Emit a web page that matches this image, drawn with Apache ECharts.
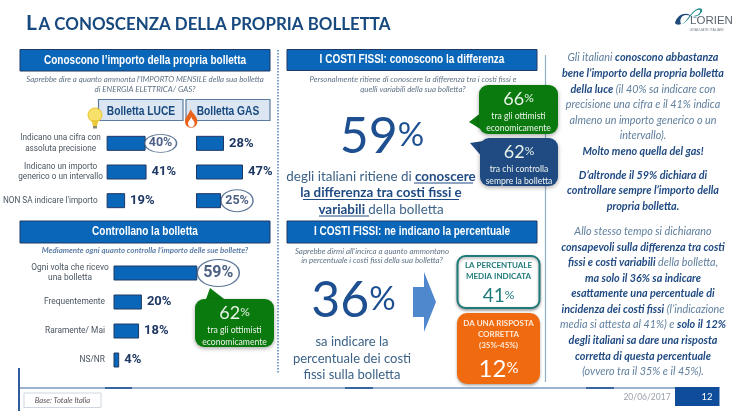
<!DOCTYPE html>
<html><head><meta charset="utf-8">
<style>html,body{margin:0;padding:0;background:#fff}#c{width:740px;height:416px}</style>
<script src="https://cdn.jsdelivr.net/npm/echarts@6/dist/echarts.min.js"></script>
</head><body><div id="c"></div>
<script>
const importoCats = ["Indicano una cifra con\nassoluta precisione","Indicano un importo\ngenerico o un intervallo","NON SA indicare l'importo"];
const luceValues = [40,41,19];
const gasValues = [28,47,25];
const controlloCats = ["Ogni volta che ricevo\nuna bolletta","Frequentemente","Raramente/ Mai","NS/NR"];
const controlloValues = [59,20,18,4];
const luceHighlight = [0];
const gasHighlight = [2];
const controlloHighlight = [0];

const NAVY='#1f3864', BLUE='#0a66b8', TITLE='#17497f', BIG='#1d4f91', SLATE='#3c6288', GREY='#5f7286';
const BODY='Lato, Carlito, sans-serif', ARIAL='"Liberation Sans",sans-serif', COND='Roboto,"Liberation Sans",sans-serif';

echarts.graphic.registerShape('logoLeft',echarts.graphic.extendPath('M0 16 C2 8 10 5 15 8 C18 10 20 12 22 10 C17 11 15 8 11 8 C7 8 4 12 6 17 C4 18 1 18 0 16 Z',{}));
echarts.graphic.registerShape('logoRight',echarts.graphic.extendPath('M6 17 C12 16 15 5 22 2 C26 0 29 3 26 6 C24 9 20 10 18 9 C22 9 26 6 25 3 C22 2 18 6 15 10 C12 14 9 17 6 17 Z',{}));
echarts.graphic.registerShape('flameOuter',echarts.graphic.extendPath('M6 0 C7 5 13 8 13 15 C13 20 10 23 6.5 23 C3 23 0 20 0 15 C0 10 4 7 6 0 Z',{}));
echarts.graphic.registerShape('flameInner',echarts.graphic.extendPath('M3.5 0 C4 3 7 5 7 8 C7 11 5 12.5 3.5 12.5 C2 12.5 0 11 0 8 C0 5 3 3 3.5 0 Z',{}));

function labelFmt(){return v=>v.includes('\n')?v.split('\n').map(s=>`{c|${s}}`).join('\n'):v;}
function barSet(gi,cats,vals,hl,ell,off,lblSize,hlSize){
  return [{
    type:'bar',xAxisIndex:gi,yAxisIndex:gi,barWidth:15,z:2,
    data:vals.map((v,i)=>({value:v,label:{show:!hl.includes(i)}})),
    itemStyle:{color:BLUE,borderColor:NAVY,borderWidth:1},
    label:{show:true,position:'right',distance:5,formatter:p=>p.value+'%',fontFamily:COND,fontSize:lblSize,fontWeight:'bold',color:NAVY},
    silent:true,animation:false
  },{
    type:'scatter',xAxisIndex:gi,yAxisIndex:gi,z:3,symbol:'circle',symbolSize:ell,symbolOffset:[off,0],
    data:hl.map(i=>[vals[i],cats[i]]),
    itemStyle:{color:'#fff',borderColor:'#33537f',borderWidth:1.2},
    label:{show:true,position:'inside',formatter:p=>p.value[0]+'%',fontFamily:COND,fontSize:hlSize,fontWeight:'bold',color:NAVY},
    silent:true,animation:false
  }];
}
function yAx(gi,cats,m,w,fs,showLab){return {gridIndex:gi,type:'category',inverse:true,data:cats,axisLine:{show:false},axisTick:{show:false},splitLine:{show:false},
  axisLabel:{show:showLab,margin:m,fontFamily:COND,fontSize:fs,color:'#4a5560',lineHeight:10.7,align:'right',formatter:labelFmt(),
    rich:{c:{width:w,align:'center',fontFamily:COND,fontSize:fs,color:'#4a5560',lineHeight:10.7}}}};}
function xAx(gi){return {gridIndex:gi,type:'value',min:0,max:100,show:false};}

// ---- decoration helpers
const els=[];
function T(x,y,text,o={}){els.push({type:'text',x,y,scaleX:o.sx||1,z:o.z||20,silent:true,style:{text,align:o.align||'center',verticalAlign:'middle',fontFamily:o.font||BODY,fontSize:o.size||12,fontWeight:o.weight||'normal',fontStyle:o.style||'normal',fill:o.fill||SLATE,rich:o.rich}});}
function R(x,y,w,h,o={}){els.push({type:'rect',z:o.z||1,silent:true,shape:{x,y,width:w,height:h,r:o.r||0},style:{fill:o.fill||'none',stroke:o.stroke||null,lineWidth:o.lw||0,shadowBlur:o.sb||0,shadowColor:'rgba(0,0,0,.35)',shadowOffsetY:o.sb?1.5:0}});}
function L(x1,y1,x2,y2,c,w,dash){els.push({type:'line',z:1,silent:true,shape:{x1,y1,x2,y2},style:{stroke:c,lineWidth:w,lineDash:dash||null}});}
function P(points,fill,z){els.push({type:'polygon',z:z||1,silent:true,shape:{points},style:{fill}});}
function pct(n,p,c,lift){return {n:{fontFamily:BODY,fontSize:n,fill:c,color:c},p:{fontFamily:BODY,fontSize:p,fill:c,color:c,padding:[0,0,lift,0]}};}
const measureCtx=document.createElement('canvas').getContext('2d');
function textW(s,font){measureCtx.font=font;return measureCtx.measureText(s).width;}

// title
T(26,23.2,'L',{align:'left',font:BODY,weight:'bold',size:21,fill:TITLE});
T(38.5,24.4,'A CONOSCENZA DELLA PROPRIA BOLLETTA',{align:'left',font:BODY,weight:'bold',size:16.9,fill:TITLE});
// logo
els.push({type:'logoLeft',z:5,silent:true,x:675,y:7,style:{fill:'#1f4a7a'}});
els.push({type:'logoRight',z:5,silent:true,x:675,y:7,style:{fill:'#1f8a8a'}});
T(711.5,21,'LORIEN',{size:11.5,fill:'#5a6470',font:ARIAL});
T(706.5,30,'GRADUATE ITALIANI',{size:3.5,fill:'#7a8490',font:ARIAL});

// dividers
L(278,50,278,374,'#4f7fb5',1.5,[1.5,1.5]);
L(545.5,55,545.5,382,'#8fb0cc',1.2);
L(19,388,680,388,'#3a66a0',1.2);
L(105,388,132,388,'#3a66a0',2); L(345,388,373,388,'#3a66a0',2); L(586,388,614,388,'#3a66a0',2);
L(19,368,19,411,'#2f5c9a',2);

// headers
[[20,49.5,250,21.5,'Conoscono l\u2019importo della propria bolletta'],[20,221,250,22,'Controllano la bolletta'],
 [287,49.5,250,21,'I COSTI FISSI: conoscono la differenza'],[287,221,250,22,'I COSTI FISSI: ne indicano la percentuale']].forEach(h=>{
  R(h[0],h[1],h[2],h[3],{fill:BLUE,stroke:NAVY,lw:1});
  T(h[0]+h[2]/2,h[1]+h[3]/2,h[4],{font:ARIAL,size:12,weight:'bold',fill:'#fff',sx:.835});
});
// questions
const Q={font:BODY,size:7.9,style:'italic',fill:GREY};
T(145,79.5,'Saprebbe dire a quanto ammonta l\u2019IMPORTO MENSILE della sua bolletta',Q);
T(145,89,'di ENERGIA ELETTRICA/ GAS?',Q);
T(145,250.5,'Mediamente ogni quanto controlla l\u2019importo delle sue bollette?',{...Q,weight:'bold',fill:'#5f7fa6'});
T(413,79.5,'Personalmente ritiene di conoscere la differenza tra i costi fissi e',Q);
T(413,89.5,'quelli variabili della sua bolletta?',Q);
T(372,251,'Saprebbe dirmi all\u2019incirca a quanto ammontano',Q);
T(372,260.5,'in percentuale i costi fissi della sua bolletta?',Q);
// Bolletta boxes
R(98.5,99.5,84.5,21,{fill:'#dce6f2',stroke:'#5b7ba0',lw:1.2});
R(186,99.5,84,21,{fill:'#dce6f2',stroke:'#5b7ba0',lw:1.2});
T(141,111,'Bolletta LUCE',{font:ARIAL,size:13.5,weight:'bold',fill:TITLE,z:6,sx:.76});
T(228,111,'Bolletta GAS',{font:ARIAL,size:13.5,weight:'bold',fill:TITLE,z:6,sx:.76});
// bulb
els.push({type:'circle',z:7,silent:true,shape:{cx:95,cy:115,r:7},style:{fill:'#f7e16b',stroke:'#e8c22a',lineWidth:1}});
P([[91.5,120],[98.5,120],[97,126],[93,126]],'#e9c83a',7);
R(93,126,4,2.5,{fill:'#8a8a70',z:7});
// flame
els.push({type:'flameOuter',z:7,silent:true,x:185,y:109,scaleX:.95,scaleY:.82,style:{fill:'#e8641c'}});
els.push({type:'flameInner',z:8,silent:true,x:188,y:117,scaleX:.95,scaleY:.82,style:{fill:'#fff'}});

// big numbers
const bigRich=pct(50,33,BIG,3);
T(382,137,'{n|59}{p|%}',{rich:bigRich});
const bo={fontFamily:BODY,fontSize:13.4,fontWeight:'bold',fill:'#1f4a82',color:'#1f4a82'};
const no={fontFamily:BODY,fontSize:13.4,fill:SLATE,color:SLATE};
T(381,176.5,'{n|degli italiani ritiene di }{b|conoscere}',{rich:{n:no,b:bo}});
T(381,193,'{b|la differenza tra costi fissi e}',{rich:{n:no,b:bo}});
T(381,210,'{b|variabili }{n|della bolletta}',{rich:{n:no,b:bo}});
L(414,183,473,183,'#1f4a82',1); L(303,199.5,459,199.5,'#1f4a82',1); L(319,216,369,216,'#1f4a82',1);

T(353.5,301,'{n|36}{p|%}',{rich:bigRich});
['sa indicare la','percentuale dei costi','fissi sulla bolletta'].forEach((s,i)=>T(352,342+i*16.5,s,{size:13,fill:SLATE}));

// arrow
P([[413,287],[424,287],[424,272],[436,302],[424,332],[424,317],[413,317]],'#4f88cc',3);

// callouts
function bubble(x,y,w,h,fill,tail,big,l1,l2){
  P(tail,fill,4);
  R(x,y,w,h,{fill,r:9,z:4,sb:4});
  T(x+w/2,y+14,`{n|${big}}{p|%}`,{z:9,rich:pct(18,12,'#e8f2e8',1)});
  T(x+w/2,y+31,l1,{size:8.6,fill:'#eef3ee',z:9});
  T(x+w/2,y+43,l2,{size:8.6,fill:'#eef3ee',z:9});
}
bubble(195,299,79,48,'#0a7a0e',[[205,302],[210,288],[228,302]],62,'tra gli ottimisti','economicamente');
bubble(479,85,79,49,'#0a7a0e',[[482,112],[469,122],[482,130]],66,'tra gli ottimisti','economicamente');
bubble(480,138,78,48,'#1f4a82',[[483,158],[470,143],[490,140]],62,'tra chi controlla','sempre la bolletta');

// teal box
R(457.5,256,82,52,{fill:'#fff',stroke:'#1f7a7a',lw:2,r:8,sb:3,z:4});
T(498.5,265,'LA PERCENTUALE',{size:8,weight:'bold',fill:'#1f7a7a'});
T(498.5,276,'MEDIA INDICATA',{size:8,weight:'bold',fill:'#1f7a7a'});
T(498.5,296,'{n|41}{p|%}',{rich:pct(19,12,'#1f7a7a',1)});
// orange box
R(457,313,83,71,{fill:'#f06a0f',r:10,sb:3,z:4});
T(498.5,323,'DA UNA RISPOSTA',{size:8,weight:'bold',fill:'#fde9d8'});
T(498.5,334,'CORRETTA',{size:8,weight:'bold',fill:'#fde9d8'});
T(498.5,345,'(35%-45%)',{size:8,weight:'bold',fill:'#fde9d8'});
T(498.5,369,'{n|12}{p|%}',{rich:pct(24,15,'#fff',2)});

// right column text : [y, normal/bold segments]
const rightText=[
 [58,[['Gli italiani ',0],['conoscono abbastanza',1]]],
 [74,[['bene l\u2019importo della propria bolletta',1]]],
 [89.5,[['della luce',1],[' (il 40% sa indicare con',0]]],
 [105,[['precisione una cifra e il 41% indica',0]]],
 [121,[['almeno un importo generico o un',0]]],
 [136,[['intervallo).',0]]],
 [152,[['Molto meno quella del gas!',1]]],
 [176,[['D\u2019altronde il 59% dichiara di',1]]],
 [191,[['controllare sempre l\u2019importo della',1]]],
 [207,[['propria bolletta.',1]]],
 [232,[['Allo stesso tempo si dichiarano',0]]],
 [248,[['consapevoli sulla differenza tra costi',1]]],
 [263,[['fissi e costi variabili',1],[' della bolletta,',0]]],
 [279,[['ma solo il 36% sa indicare',1]]],
 [294,[['esattamente una percentuale di',1]]],
 [310,[['incidenza dei costi fissi',1],[' (l\u2019indicazione',0]]],
 [325,[['media si attesta al 41%) e ',0],['solo il 12%',1]]],
 [341,[['degli italiani sa dare una risposta',1]]],
 [357,[['corretta di questa percentuale',1]]],
 [372,[['(ovvero tra il 35% e il 45%).',0]]]
];
const RS=10.8;
rightText.forEach(r=>{
  const fonts=r[1].map(s=>`italic ${s[1]?'bold':'normal'} ${RS}px Lato`);
  const widths=r[1].map((s,i)=>textW(s[0],fonts[i]));
  let x=643-widths.reduce((a,b)=>a+b,0)/2;
  r[1].forEach((s,i)=>{
    T(x,r[0],s[0],{align:'left',size:RS,style:'italic',weight:s[1]?'bold':'normal',fill:s[1]?'#1f4a82':'#5f7f9e'});
    x+=widths[i];
  });
});

// footer
R(24,393,77,14.5,{fill:'#fff',stroke:'#cfd6de',lw:1});
T(62.5,400.5,'Base: Totale Italia',{size:7.6,style:'italic',fill:'#555'});
T(647,397,'20/06/2017',{size:8.5,fill:'#9aa3ad'});
R(675,387,44.5,19,{fill:'#0f4c9a',z:4});
T(707,397,'12',{size:9.5,fill:'#fff',z:9});

const option={
  animation:false,backgroundColor:'#fff',
  grid:[
    {left:104,top:129,width:100,height:86},
    {left:196,top:129,width:100,height:86},
    {left:113.5,top:258.5,width:142,height:116}
  ],
  xAxis:[xAx(0),xAx(1),xAx(2)],
  yAxis:[yAx(0,importoCats,9,74,8.2,true),yAx(1,importoCats,9,74,8.2,false),yAx(2,controlloCats,8.5,70,8.4,true)],
  series:[
    ...barSet(0,importoCats,luceValues,luceHighlight,[32,18],15,13,12.5),
    ...barSet(1,importoCats,gasValues,gasHighlight,[32,22],16,13,12.5),
    ...barSet(2,controlloCats,controlloValues,controlloHighlight,[42,27],21,13,16)
  ],
  graphic:{elements:els}
};
const chart=echarts.init(document.getElementById('c'),null,{renderer:'canvas'});
chart.setOption(option);
</script></body></html>
